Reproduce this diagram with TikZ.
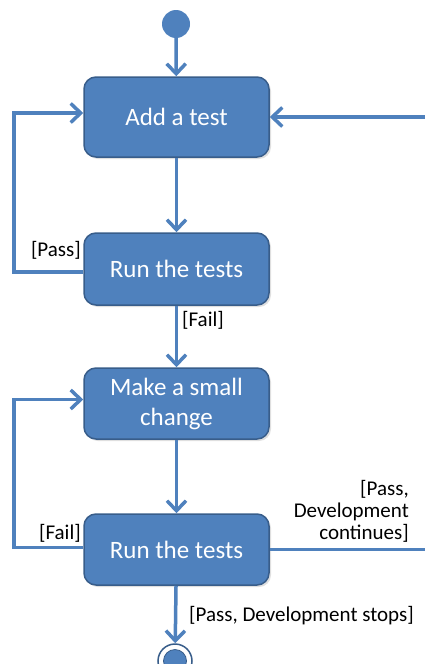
\documentclass[tikz,border=0pt]{standalone}
\usepackage{fontspec}
\setmainfont{Carlito}
\usetikzlibrary{arrows.meta,shadows}
\definecolor{boxblue}{HTML}{4F81BD}
\definecolor{boxedge}{HTML}{385D8A}
\begin{document}
\begin{tikzpicture}[x=1pt,y=-1pt,
  act/.style={draw=boxedge, line width=1.5pt, fill=boxblue, rounded corners=12pt,
    minimum width=185pt, text=white, font=\fontsize{25}{30}\selectfont, align=center,
    drop shadow={opacity=0.25, shadow xshift=2pt, shadow yshift=-2pt}},
  flow/.style={draw=boxblue, line width=3.5pt, -{Straight Barb[length=10pt,width=19pt]}},
  lab/.style={font=\fontsize{21}{22}\selectfont, text=black, inner sep=0pt}]
\useasboundingbox (0,0) rectangle (424,664);
% nodes
\node[circle, fill=boxblue, minimum size=28pt, inner sep=0pt] (start) at (176,24) {};
\node[act, minimum height=80pt] (add) at (176.5,117) {Add a test};
\node[act, minimum height=72pt] (run1) at (176.5,269) {Run the tests};
\node[act, minimum height=71pt] (make) at (176.5,403.5) {Make a small\\change};
\node[act, minimum height=71pt] (run2) at (176.5,549.5) {Run the tests};
\node[circle, draw=boxedge, line width=1.5pt, fill=white, minimum size=34pt, inner sep=0pt] (end) at (175,661) {};
\node[circle, draw=boxedge, line width=0.8pt, fill=boxblue, minimum size=23pt, inner sep=0pt] (endin) at (end.center) {};
\coordinate (lx) at (14,0);
\coordinate (rx) at (432,0);
% connectors
\draw[flow] (start) -- (add);
\draw[flow] (add) -- (run1);
\draw[flow] (run1) -- (make);
\draw[flow] (make) -- (run2);
\draw[flow] (run2) -- (end);
\draw[flow] ([yshift=-3pt]run1.west) -- ([yshift=-3pt]run1.west -| lx) |- ([yshift=4pt]add.west);
\draw[flow] ([yshift=2pt]run2.west) -- ([yshift=2pt]run2.west -| lx) |- ([yshift=4pt]make.west);
\draw[flow] (run2.east) -- (run2.east -| rx) |- (add.east);
% labels
\node[lab, anchor=east] (lpass) at (81,250) {[Pass]};
\node[lab, anchor=west] (lfail1) at (182,320) {[Fail]};
\node[lab, anchor=east] (lfail2) at (81,533) {[Fail]};
\node[lab, anchor=east, align=right] (lcont) at (409,511) {[Pass,\\Development\\continues]};
\node[lab, anchor=west] (lstop) at (189,616) {[Pass, Development stops]};
\end{tikzpicture}
\end{document}
